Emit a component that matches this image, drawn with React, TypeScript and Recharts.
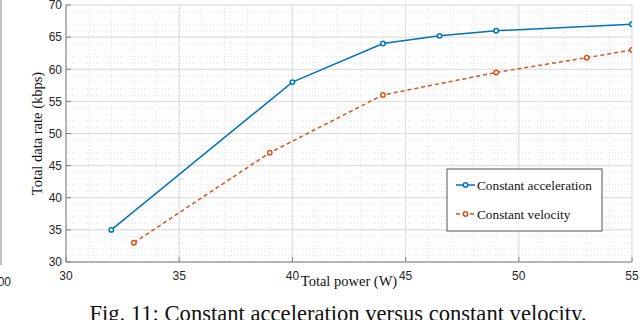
import React from 'react';
import { LineChart, Line, XAxis, YAxis, CartesianGrid, Label } from 'recharts';

// values
const accelPower = [32, 40, 44, 46.5, 49, 55];
const accelRate = [35, 58, 64, 65.2, 66, 67];
const velocityPower = [33, 39, 44, 49, 53, 55];
const velocityRate = [33, 47, 56, 59.5, 61.8, 63];

const xTicks = [30, 35, 40, 45, 50, 55];
const yTicks = [30, 35, 40, 45, 50, 55, 60, 65, 70];
const xMinor = Array.from({ length: 26 }, (_, i) => 30 + i);
const yMinor = Array.from({ length: 41 }, (_, i) => 30 + i);

const accelData = accelPower.map((p, i) => ({ power: p, rate: accelRate[i] }));
const velocityData = velocityPower.map((p, i) => ({ power: p, rate: velocityRate[i] }));

const series = [
  { name: 'Constant acceleration', color: '#0072BD', dash: undefined as string | undefined, data: accelData },
  { name: 'Constant velocity', color: '#D95319', dash: '4 3', data: velocityData },
];

const axisColor = '#808080';
const tickStyle = { fill: '#262626', fontSize: 12, fontFamily: '"Liberation Sans", Arial, sans-serif' };
const labelStyle = { fill: '#111', fontSize: 14.5, fontFamily: '"Liberation Serif", "Times New Roman", serif' };

export default function App() {
  return (
    <div style={{ position: 'absolute', left: 0, top: 0, width: 640, height: 320, background: '#fff' }}>
      <LineChart width={640} height={320} margin={{ top: 5, right: 8, bottom: 20, left: 8 }}>
        <CartesianGrid verticalValues={xMinor} horizontalValues={yMinor} stroke="#e4e4e4" strokeDasharray="1 2" />
        <CartesianGrid stroke="#dadada" />
        <XAxis
          type="number"
          dataKey="power"
          domain={[30, 55]}
          ticks={xTicks}
          interval={0}
          allowDataOverflow
          height={38}
          tickSize={-5}
          tickMargin={14.5}
          axisLine={{ stroke: axisColor }}
          tickLine={{ stroke: axisColor }}
          tick={tickStyle}
        >
          <Label value="Total power (W)" position="center" style={labelStyle} />
        </XAxis>
        <YAxis
          type="number"
          domain={[30, 70]}
          ticks={yTicks}
          interval={0}
          allowDataOverflow
          width={58}
          tickSize={-5}
          tickMargin={9}
          axisLine={{ stroke: axisColor }}
          tickLine={{ stroke: axisColor }}
          tick={tickStyle}
        >
          <Label value="Total data rate (kbps)" position="center" angle={-90} style={labelStyle} />
        </YAxis>
        <XAxis
          xAxisId="top"
          orientation="top"
          type="number"
          domain={[30, 55]}
          ticks={xTicks}
          interval={0}
          height={0}
          tick={false}
          tickSize={-5}
          axisLine={{ stroke: axisColor }}
          tickLine={{ stroke: axisColor }}
        />
        <YAxis
          yAxisId="right"
          orientation="right"
          type="number"
          domain={[30, 70]}
          ticks={yTicks}
          interval={0}
          width={0}
          tick={false}
          tickSize={-5}
          axisLine={{ stroke: axisColor }}
          tickLine={{ stroke: axisColor }}
        />
        {series.map((s) => (
          <Line
            key={s.name}
            data={s.data}
            dataKey="rate"
            name={s.name}
            type="linear"
            stroke={s.color}
            strokeWidth={1.5}
            strokeDasharray={s.dash}
            dot={{ r: 2.2, fill: '#fff', stroke: s.color, strokeWidth: 1.5, strokeDasharray: '' }}
            isAnimationActive={false}
          />
        ))}
      </LineChart>
      <svg width={640} height={320} style={{ position: 'absolute', left: 0, top: 0, pointerEvents: 'none' }}>
        {/* remnants of the neighbouring figure */}
        <line x1={1} y1={0} x2={1} y2={265} stroke="#808080" />
        <text x={11} y={286} textAnchor="end" style={tickStyle}>00</text>

        <rect x={447} y={169} width={155} height={62} fill="#fff" stroke="#555" />
        {series.map((s, i) => {
          const y = 185 + i * 29;
          return (
            <g key={s.name}>
              <line x1={456} y1={y} x2={475} y2={y} stroke={s.color} strokeWidth={1.5} strokeDasharray={s.dash} />
              <circle cx={465.5} cy={y} r={2.2} fill="#fff" stroke={s.color} strokeWidth={1.5} />
              <text x={477} y={y} dominantBaseline="central" fontSize={13.3} fontFamily='"Liberation Serif", serif' fill="#111">
                {s.name}
              </text>
            </g>
          );
        })}

        <text x={338} y={321} textAnchor="middle" fontSize={22.6} fontFamily='"Liberation Serif", "Times New Roman", serif' fill="#111">
          Fig. 11: Constant acceleration versus constant velocity.
        </text>
      </svg>
    </div>
  );
}
